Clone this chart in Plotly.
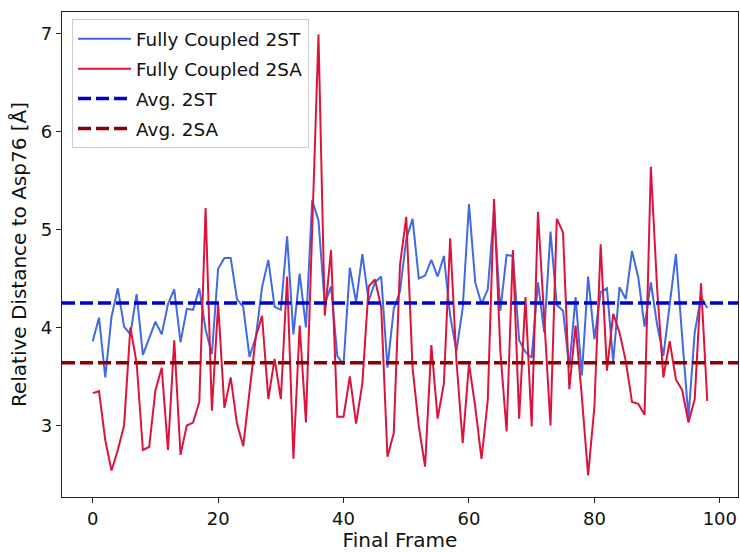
import plotly.graph_objects as go

# Relative distance to Asp76 per final frame, two systems
frames = list(range(99))

dist_2st = [
    3.86, 4.10, 3.49, 4.11, 4.40, 4.01, 3.93, 4.34, 3.72, 3.88,
    4.06, 3.93, 4.24, 4.39, 3.85, 4.19, 4.18, 4.40, 3.98, 3.73,
    4.60, 4.71, 4.71, 4.29, 4.21, 3.70, 3.90, 4.41, 4.69, 4.21,
    4.18, 4.93, 3.93, 4.55, 4.00, 5.30, 5.09, 4.24, 4.42, 3.71,
    3.62, 4.61, 4.26, 4.75, 4.27, 4.46, 4.52, 3.59, 4.19, 4.37,
    4.90, 5.11, 4.50, 4.53, 4.69, 4.52, 4.73, 4.12, 3.76, 4.20,
    5.26, 4.46, 4.24, 4.39, 5.20, 4.17, 4.74, 4.73, 3.87, 3.75,
    3.69, 4.46, 3.95, 4.98, 4.23, 4.17, 3.59, 4.31, 3.51, 4.52,
    3.88, 4.36, 4.40, 3.65, 4.41, 4.29, 4.78, 4.51, 4.01, 4.46,
    4.03, 3.71, 4.25, 4.75, 3.90, 3.08, 3.95, 4.31, 4.20,
]

dist_2sa = [
    3.33, 3.35, 2.85, 2.54, 2.75, 3.00, 4.00, 3.64, 2.75, 2.78,
    3.36, 3.59, 2.75, 3.87, 2.70, 3.00, 3.03, 3.24, 5.22, 3.15,
    4.24, 3.18, 3.49, 3.02, 2.79, 3.32, 3.90, 4.12, 3.27, 3.68,
    3.27, 4.52, 2.66, 4.02, 3.03, 5.00, 6.99, 4.12, 4.79, 3.09,
    3.09, 3.50, 3.02, 3.43, 4.42, 4.49, 4.21, 2.68, 2.92, 4.64,
    5.13, 3.59, 2.99, 2.58, 3.82, 3.07, 3.43, 4.91, 3.66, 2.82,
    3.63, 3.19, 2.66, 3.26, 5.31, 3.76, 2.94, 4.79, 3.07, 4.31,
    2.99, 5.18, 4.10, 3.00, 5.11, 4.97, 3.37, 4.02, 3.29, 2.49,
    3.19, 4.85, 3.56, 4.14, 3.95, 3.66, 3.24, 3.22, 3.11, 5.64,
    4.40, 3.49, 3.86, 3.47, 3.36, 3.03, 3.27, 4.45, 3.25,
]

avg_2st = 4.25
avg_2sa = 3.64

x_ticks = [0, 20, 40, 60, 80, 100]
y_ticks = [3, 4, 5, 6, 7]
x_range = [-4.9, 102.9]
y_range = [2.27, 7.22]

FONT = "DejaVu Sans"
TICK_FS = 18
LEGEND_FS = 18.4
TITLE_FS = 20

fig = go.Figure()

fig.add_trace(go.Scatter(
    x=frames, y=dist_2st, mode="lines", name="Fully Coupled 2ST",
    line=dict(color="#4169E1", width=2), legendgroup="a",
))
fig.add_trace(go.Scatter(
    x=frames, y=dist_2sa, mode="lines", name="Fully Coupled 2SA",
    line=dict(color="#DC143C", width=2), legendgroup="b",
))
# horizontal mean lines across the full axis width
fig.add_trace(go.Scatter(
    x=x_range, y=[avg_2st, avg_2st], mode="lines", name="Avg. 2ST",
    line=dict(color="#0000CD", width=3.5, dash="13px,5px"), legendgroup="c",
))
fig.add_trace(go.Scatter(
    x=x_range, y=[avg_2sa, avg_2sa], mode="lines", name="Avg. 2SA",
    line=dict(color="#8B0000", width=3.5, dash="13px,5px"), legendgroup="d",
))

axis_common = dict(
    showline=True, mirror=True, linecolor="#222222", linewidth=1.3,
    ticks="outside", ticklen=5, tickwidth=1.2, tickcolor="#222222",
    showgrid=False, zeroline=False,
    tickfont=dict(family=FONT, size=TICK_FS, color="#111111"),
)

fig.update_layout(
    width=740, height=552,
    margin=dict(l=62, r=2, t=12, b=55),
    paper_bgcolor="white", plot_bgcolor="white",
    font=dict(family=FONT, size=TICK_FS, color="#111111"),
    showlegend=True,
    legend=dict(
        x=0.0148, y=0.985, xanchor="left", yanchor="top",
        bgcolor="rgba(255,255,255,0.8)", bordercolor="#cccccc", borderwidth=1,
        font=dict(family=FONT, size=LEGEND_FS, color="#111111"),
        tracegroupgap=3, itemwidth=53,
    ),
    xaxis=dict(
        range=x_range, tickvals=x_ticks,
        title=dict(text="Final Frame", font=dict(family=FONT, size=TITLE_FS), standoff=4),
        **axis_common,
    ),
    yaxis=dict(
        range=y_range, tickvals=y_ticks,
        title=dict(text="Relative Distance to Asp76 [Å]", font=dict(family=FONT, size=TITLE_FS), standoff=8),
        **axis_common,
    ),
)

fig.write_html("out.html")
